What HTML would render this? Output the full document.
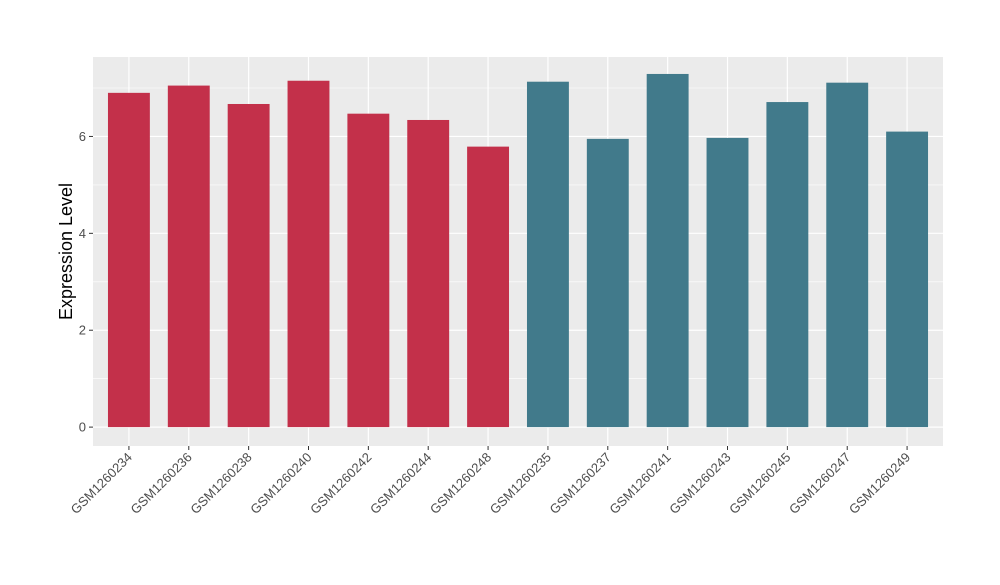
<!DOCTYPE html>
<html><head><meta charset="utf-8"><style>
body{margin:0;background:#fff}
svg text{font-family:"Liberation Sans",Arial,sans-serif}
</style></head><body>
<svg id="chart" width="1000" height="580" xmlns="http://www.w3.org/2000/svg"></svg>
<script>
const categories=["GSM1260234","GSM1260236","GSM1260238","GSM1260240","GSM1260242","GSM1260244","GSM1260248","GSM1260235","GSM1260237","GSM1260241","GSM1260243","GSM1260245","GSM1260247","GSM1260249"];
const values=[6.90,7.05,6.67,7.15,6.47,6.34,5.79,7.13,5.95,7.29,5.97,6.71,7.11,6.10];
const groups=[0,0,0,0,0,0,0,1,1,1,1,1,1,1];
const yTicks=[0,2,4,6];
const colors=["#C3304A","#417A8B"];
const NS="http://www.w3.org/2000/svg";
const svg=document.getElementById('chart');
const L=93,R=943,T=57,B=446,yMin=-0.39,yMax=7.64;
const step=(R-L)/(categories.length-1+1.2);
const xs=i=>L+step*(0.6+i);
const ys=v=>B-(v-yMin)/(yMax-yMin)*(B-T);
function mk(tag,attrs,parent){const e=document.createElementNS(NS,tag);for(const k in attrs)e.setAttribute(k,attrs[k]);(parent||svg).appendChild(e);return e;}
const panel=mk('rect',{x:L,y:T,width:R-L,height:B-T,fill:'#EBEBEB'});


for(let v=1;v<yMax;v+=2){const g=mk('line',{x1:L,x2:R,y1:ys(v),y2:ys(v),stroke:'#fff','stroke-width':0.6});

}
yTicks.forEach(v=>{const g=mk('line',{x1:L,x2:R,y1:ys(v),y2:ys(v),stroke:'#fff','stroke-width':1.2});


const t=mk('line',{x1:L-4,x2:L,y1:ys(v),y2:ys(v),stroke:'#333','stroke-width':1});


const tx=mk('text',{x:L-7,y:ys(v)+4.5,'text-anchor':'end','font-size':13,fill:'#4D4D4D'});tx.textContent=v;

});
categories.forEach((c,i)=>{const x=xs(i);
const g=mk('line',{x1:x,x2:x,y1:T,y2:B,stroke:'#fff','stroke-width':1.2});

});
categories.forEach((c,i)=>{const x=xs(i),w=step*0.7;
const b=mk('rect',{x:x-w/2,y:ys(values[i]),width:w,height:ys(0)-ys(values[i]),fill:colors[groups[i]]});


const t=mk('line',{x1:x,x2:x,y1:B,y2:B+4,stroke:'#333','stroke-width':1});


const tx=mk('text',{x:x+4,y:B+12,'text-anchor':'end','font-size':13,fill:'#4D4D4D',transform:`rotate(-45 ${x+4} ${B+12})`});tx.textContent=c;

});
const yt=mk('text',{x:72,y:(T+B)/2,'text-anchor':'middle','font-size':18,fill:'#000',transform:`rotate(-90 72 ${(T+B)/2})`});yt.textContent='Expression Level';


</script>
</body></html>
